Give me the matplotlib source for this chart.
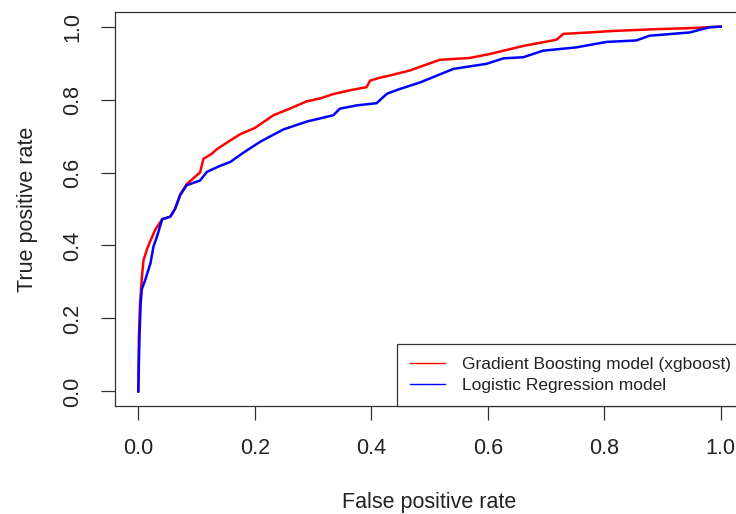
import numpy as np
import matplotlib
matplotlib.use('Agg')
import matplotlib.pyplot as plt

plt.rcParams['font.family'] = ['Liberation Sans', 'DejaVu Sans']

# ROC curve (false positive rate, true positive rate)
fpr_xgb = [0.0, 0.001, 0.003, 0.006, 0.009, 0.015, 0.020, 0.029, 0.041, 0.055, 0.063,
           0.072, 0.083, 0.095, 0.106, 0.112, 0.125, 0.135, 0.155, 0.175, 0.200, 0.232,
           0.260, 0.289, 0.312, 0.335, 0.365, 0.392, 0.398, 0.415, 0.432, 0.467, 0.484,
           0.518, 0.569, 0.604, 0.661, 0.718, 0.730, 0.775, 0.815, 0.890, 0.950, 1.0]
tpr_xgb = [0.0, 0.15, 0.24, 0.31, 0.36, 0.39, 0.41, 0.443, 0.472, 0.479, 0.50,
           0.540, 0.568, 0.585, 0.600, 0.638, 0.650, 0.664, 0.685, 0.705, 0.722, 0.757,
           0.775, 0.795, 0.803, 0.815, 0.826, 0.834, 0.852, 0.860, 0.866, 0.880, 0.890,
           0.909, 0.914, 0.925, 0.947, 0.964, 0.980, 0.984, 0.988, 0.993, 0.996, 1.0]

fpr_lr = [0.0, 0.002, 0.004, 0.006, 0.012, 0.021, 0.026, 0.032, 0.041, 0.055, 0.063,
          0.072, 0.083, 0.095, 0.106, 0.118, 0.140, 0.158, 0.181, 0.210, 0.249, 0.290,
          0.335, 0.346, 0.375, 0.409, 0.427, 0.449, 0.484, 0.541, 0.598, 0.627, 0.661,
          0.695, 0.752, 0.804, 0.855, 0.878, 0.947, 0.980, 1.0]
tpr_lr = [0.0, 0.15, 0.24, 0.28, 0.306, 0.352, 0.397, 0.424, 0.472, 0.479, 0.50,
          0.538, 0.565, 0.572, 0.578, 0.602, 0.618, 0.629, 0.655, 0.685, 0.718, 0.740,
          0.757, 0.775, 0.784, 0.790, 0.816, 0.829, 0.847, 0.884, 0.898, 0.913, 0.916,
          0.934, 0.943, 0.958, 0.962, 0.975, 0.984, 0.998, 1.0]

labels = ['Gradient Boosting model (xgboost)', 'Logistic Regression model']
ticks = [0.0, 0.2, 0.4, 0.6, 0.8, 1.0]
txt = '#222222'

W, H = 736, 514
fig = plt.figure(figsize=(W / 100, H / 100), dpi=100)
ax = fig.add_axes([115 / W, (H - 406) / H, (744 - 115) / W, (406 - 12) / H])

ax.plot(fpr_xgb, tpr_xgb, color='red', lw=1.8)
ax.plot(fpr_lr, tpr_lr, color='blue', lw=1.8)

ax.set_xlim(-0.04, 1.04)
ax.set_ylim(-0.04, 1.04)
ax.set_xticks(ticks)
ax.set_yticks(ticks)
ax.set_xticklabels(['%.1f' % t for t in ticks])
ax.set_yticklabels(['%.1f' % t for t in ticks], rotation=90, va='center')
ax.tick_params(direction='out', length=10, width=0.9, color='#333333',
               labelsize=15.5, labelcolor=txt, pad=13)
for s in ax.spines.values():
    s.set_linewidth(0.9)
    s.set_color('#333333')

ax.set_xlabel('False positive rate', fontsize=15.5, color=txt, labelpad=24)
ax.set_ylabel('True positive rate', fontsize=15.5, color=txt, labelpad=17)

# legend lines are thin in the original
h1, = ax.plot([], [], color='red', lw=1.0)
h2, = ax.plot([], [], color='blue', lw=1.0)
leg = ax.legend([h1, h2], labels, loc='lower right', bbox_to_anchor=(1, 0),
                borderaxespad=0, fontsize=12.5, frameon=True, fancybox=False,
                framealpha=1, edgecolor='#333333', handlelength=2.0,
                handletextpad=1.0, borderpad=0.75, labelspacing=0.35)
leg.get_frame().set_linewidth(0.9)
for t in leg.get_texts():
    t.set_color(txt)

fig.savefig('out.png', dpi=100)
